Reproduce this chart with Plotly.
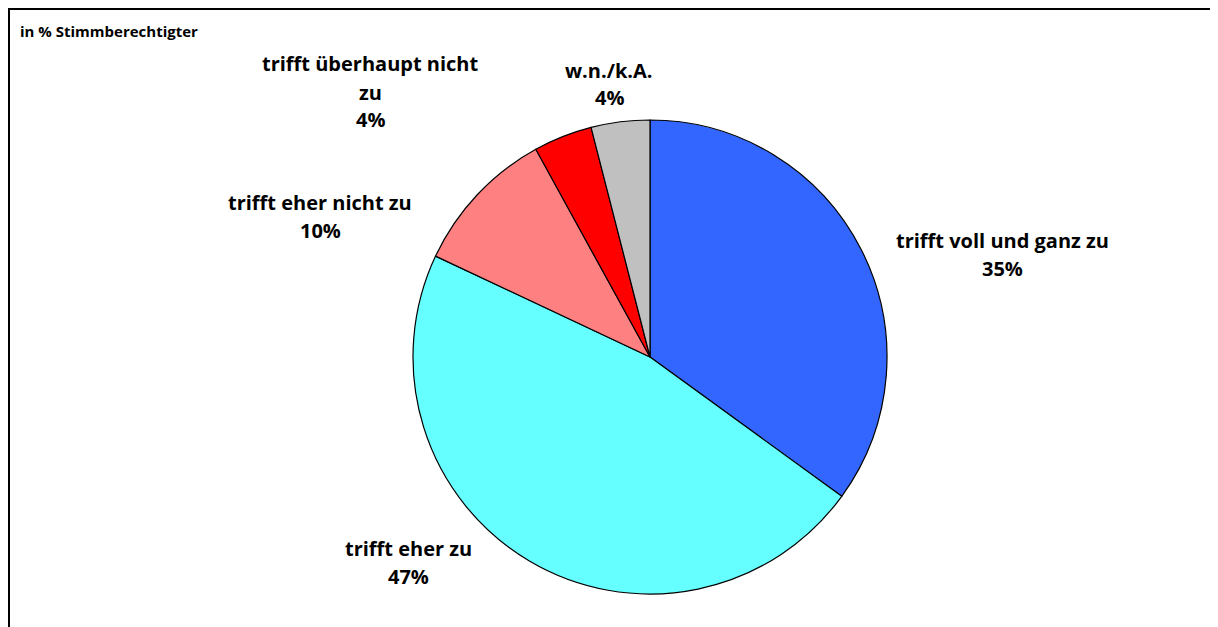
import plotly.graph_objects as go

# Data
categories = ["trifft voll und ganz zu", "trifft eher zu", "trifft eher nicht zu",
              "trifft überhaupt nicht zu", "w.n./k.A."]
values = [35, 47, 10, 4, 4]
label_lines = [["trifft voll und ganz zu"], ["trifft eher zu"], ["trifft eher nicht zu"],
               ["trifft überhaupt nicht", "zu"], ["w.n./k.A."]]
colors = ["#3366FF", "#66FFFF", "#FF8080", "#FF0000", "#C0C0C0"]
subtitle = "in % Stimmberechtigter"

W, H = 1218, 627
OFF = 8  # page offset (body margin)
cx, cy, r = 650 - OFF, 357 - OFF, 237

# label positions: (x centre, y of first line) in page pixels
label_pos = [(1002, 240), (408, 548), (320, 202), (370, 64), (609, 70)]
LINE = 28

fig = go.Figure()
fig.add_trace(go.Pie(
    labels=categories,
    values=values,
    sort=False,
    direction="clockwise",
    rotation=0,
    marker=dict(colors=colors, line=dict(color="black", width=1.2)),
    textinfo="none",
    hoverinfo="label+percent",
    showlegend=False,
    domain=dict(x=[(cx - r) / W, (cx + r) / W], y=[1 - (cy + r) / H, 1 - (cy - r) / H]),
))

font = dict(family="Open Sans", size=20, color="black", weight="bold")
total = sum(values)
annotations = []
for lines, v, (px, py) in zip(label_lines, values, label_pos):
    all_lines = lines + [f"{round(100 * v / total)}%"]
    for i, t in enumerate(all_lines):
        annotations.append(dict(
            x=(px - OFF) / W, y=1 - (py - OFF + i * LINE) / H, xref="paper", yref="paper",
            text=t, showarrow=False, xanchor="center", yanchor="middle", font=font,
        ))
annotations.append(dict(
    x=(18 - OFF) / W, y=1 - (31 - OFF) / H, xref="paper", yref="paper", text=subtitle,
    showarrow=False, xanchor="left", yanchor="middle",
    font=dict(family="Open Sans", size=15, color="black", weight="bold"),
))

fig.update_layout(
    width=W, height=H,
    margin=dict(l=0, r=0, t=0, b=0),
    paper_bgcolor="white",
    plot_bgcolor="white",
    annotations=annotations,
    shapes=[
        dict(type="line", xref="paper", yref="paper", x0=0, x1=0, y0=0, y1=1,
             line=dict(color="black", width=4)),
        dict(type="line", xref="paper", yref="paper", x0=0, x1=(1217 - OFF) / W, y0=1, y1=1,
             line=dict(color="black", width=4)),
        dict(type="line", xref="paper", yref="paper", x0=(1216.5 - OFF) / W, x1=(1216.5 - OFF) / W,
             y0=0, y1=1, line=dict(color="#777777", width=1)),
    ],
)

fig.write_html("out.html")
